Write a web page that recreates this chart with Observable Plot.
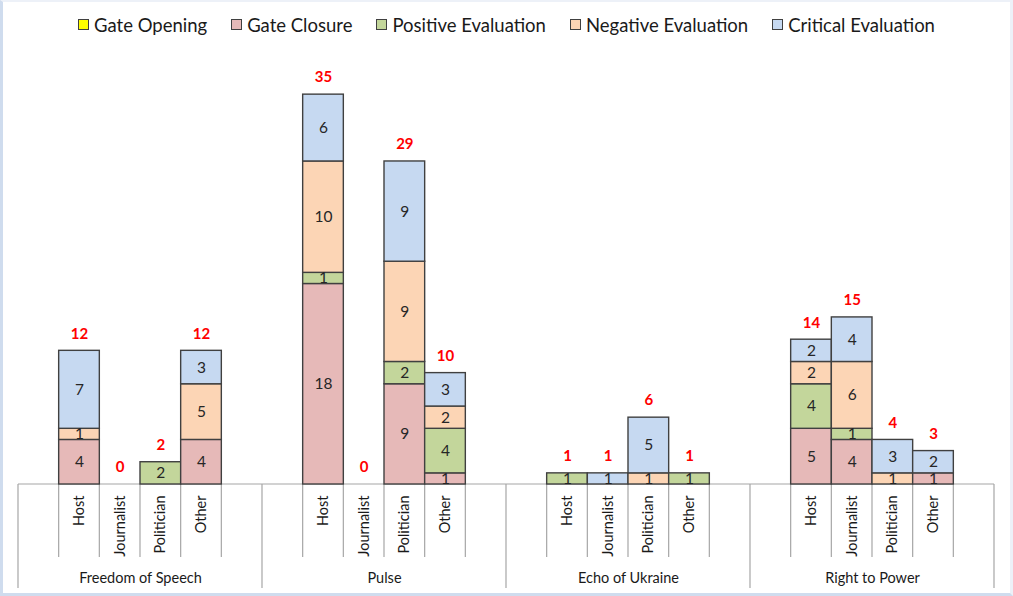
<!DOCTYPE html>
<html>
<head>
<meta charset="utf-8">
<script src="https://cdn.jsdelivr.net/npm/d3@7"></script>
<script src="https://cdn.jsdelivr.net/npm/@observablehq/plot@0.6"></script>
<style>
html, body { margin: 0; padding: 0; background: #fff; }
#wrap { position: relative; width: 1013px; height: 596px; overflow: hidden; font-family: Lato, sans-serif; background: #fff; }
#legend { height: 52px; box-sizing: border-box; padding-bottom: 3px; display: flex; justify-content: center; align-items: center; gap: 24px; font-size: 18.5px; color: #1a1a1a; }
#legend .item { display: flex; align-items: center; white-space: nowrap; }
#legend .sw { width: 9px; height: 9px; border: 1px solid #404040; margin-right: 5px; }
#frame { position: absolute; left: 0; top: 0; width: 1013px; height: 596px; box-sizing: border-box;
  border-left: 3px solid #CFDCEE; border-bottom: 3px solid #CFDCEE; border-top: 2px solid #EDF1F8; border-right: 3px solid #EDF1F8; pointer-events: none; }
#plot svg { display: block; }
</style>
</head>
<body>
<div id="wrap">
  <div id="legend"></div>
  <div id="plot"></div>
  <div id="frame"></div>
</div>
<script>
// ---- data ----
const groups = ["Freedom of Speech", "Pulse", "Echo of Ukraine", "Right to Power"];
const roles = ["Host", "Journalist", "Politician", "Other"];
const seriesNames = ["Gate Opening", "Gate Closure", "Positive Evaluation", "Negative Evaluation", "Critical Evaluation"];
const seriesColors = ["#FFFF00", "#E6B9B8", "#C3D69B", "#FCD5B5", "#C6D9F1"];
// values per (group, role), in order groups x roles
const gateOpening  = [0, 0, 0, 0,   0, 0, 0, 0,   0, 0, 0, 0,   0, 0, 0, 0];
const gateClosure  = [4, 0, 0, 4,  18, 0, 9, 1,   0, 0, 0, 0,   5, 4, 0, 1];
const positiveEval = [0, 0, 2, 0,   1, 0, 2, 4,   1, 0, 0, 1,   4, 1, 0, 0];
const negativeEval = [1, 0, 0, 5,  10, 0, 9, 2,   0, 0, 1, 0,   2, 6, 1, 0];
const criticalEval = [7, 0, 0, 3,   6, 0, 9, 3,   0, 1, 5, 0,   2, 4, 3, 2];
const totalLabels  = [12, 0, 2, 12, 35, 0, 29, 10, 1, 1, 6, 1, 14, 15, 4, 3];

// ---- derived tables ----
const seriesValues = [gateOpening, gateClosure, positiveEval, negativeEval, criticalEval];
const slotKeys = groups.flatMap(g => [g + "|_L", ...roles.map(r => g + "|" + r), g + "|_R"]);
const cells = groups.flatMap(g => roles.map(r => ({group: g, role: r, key: g + "|" + r})));
const rows = [];
cells.forEach((c, i) => seriesNames.forEach((s, j) => {
  const v = seriesValues[j][i];
  if (v > 0) rows.push({key: c.key, series: s, value: v});
}));
const totals = cells.map((c, i) => ({key: c.key, top: d3.sum(seriesValues, a => a[i]), label: totalLabels[i]}));

// ---- legend ----
const legend = document.getElementById("legend");
seriesNames.forEach((s, i) => {
  const it = document.createElement("div");
  it.className = "item";
  const sw = document.createElement("span");
  sw.className = "sw";
  sw.style.background = seriesColors[i];
  const tx = document.createElement("span");
  tx.textContent = s;
  it.appendChild(sw); it.appendChild(tx);
  legend.appendChild(it);
});

// ---- plot ----
const W = 1013, H = 544, ML = 18, MR = 19, MT = 31, MB = 112;
const bw = (W - ML - MR) / slotKeys.length;

function axisDecor(index, scales, values, dims) {
  const x = scales.x, y = scales.y;
  const b = (x && x.bandwidth) ? x.bandwidth() : bw;
  const y0 = y(0);
  const g = d3.create("svg:g").attr("stroke", "#A6A6A6").attr("stroke-width", 1.2).attr("fill", "none");
  g.append("line").attr("x1", dims.marginLeft).attr("x2", dims.width - dims.marginRight).attr("y1", y0).attr("y2", y0);
  slotKeys.forEach((k, i) => {
    const xl = x(k);
    const long = i % 6 === 0;
    g.append("line").attr("x1", xl).attr("x2", xl).attr("y1", y0).attr("y2", y0 + (long ? 104 : 73));
  });
  const xe = x(slotKeys[slotKeys.length - 1]) + b;
  g.append("line").attr("x1", xe).attr("x2", xe).attr("y1", y0).attr("y2", y0 + 104);
  return g.node();
}

const chart = Plot.plot({
  width: W, height: H,
  marginLeft: ML, marginRight: MR, marginTop: MT, marginBottom: MB,
  x: {domain: slotKeys, padding: 0, round: false, axis: null},
  y: {domain: [0, 36], axis: null},
  color: {domain: seriesNames, range: seriesColors},
  style: {fontFamily: "Lato, sans-serif", background: "transparent", overflow: "visible"},
  marks: [
    axisDecor,
    Plot.barY(rows, {x: "key", y: "value", fill: "series", stroke: "#404040", strokeWidth: 1.4}),
    Plot.text(rows, Plot.stackY({x: "key", y: "value", text: "value", fontSize: 15.5, fill: "#262626"})),
    Plot.text(totals, {x: "key", y: "top", text: "label", dy: -17, fill: "#FF0000", fontWeight: "bold", fontSize: 15}),
    Plot.text(cells, {x: "key", y: () => 0, text: "role", rotate: -90, textAnchor: "end", dy: 11, fontSize: 14.5, fill: "#1a1a1a"}),
    Plot.text(groups, {x: g => g + "|Journalist", dx: bw / 2, y: () => 0, dy: 94, text: d => d, fontSize: 14.5, fill: "#1a1a1a"})
  ]
});
document.getElementById("plot").appendChild(chart);
</script>
</body>
</html>
